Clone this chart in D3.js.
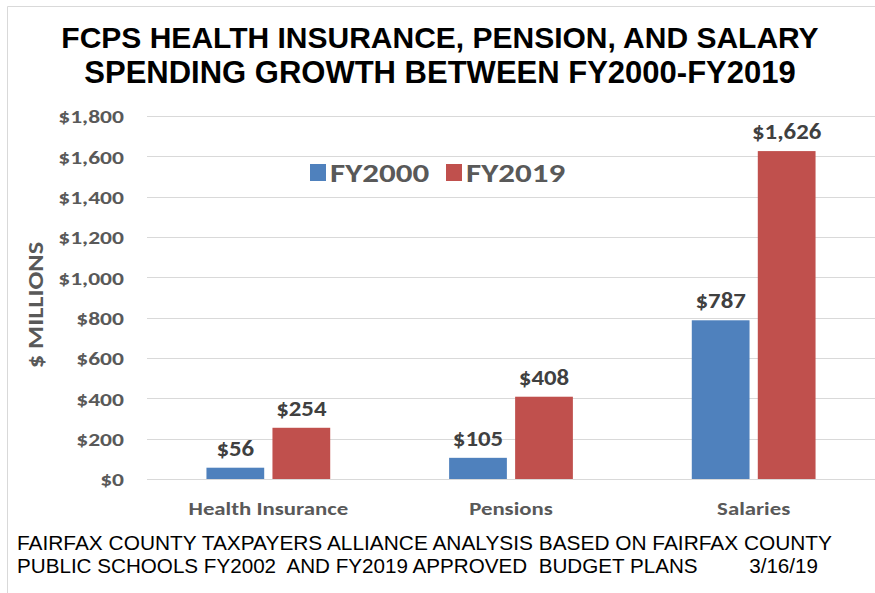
<!DOCTYPE html>
<html><head><meta charset="utf-8">
<script src="https://cdn.jsdelivr.net/npm/d3@7"></script>
<style>body{margin:0;background:#fff;} svg{display:block;}</style>
</head><body>
<svg id="c" width="875" height="593"></svg>
<script>
const categories = ["Health Insurance", "Pensions", "Salaries"];
const seriesNames = ["FY2000", "FY2019"];
const fy2000 = [56, 105, 787];
const fy2019 = [254, 408, 1626];
const yTicks = [0, 200, 400, 600, 800, 1000, 1200, 1400, 1600, 1800];
const colors = ["#4F81BD", "#C0504D"];
const titleLines = ["FCPS HEALTH INSURANCE, PENSION, AND SALARY", "SPENDING GROWTH BETWEEN FY2000-FY2019"];
const footerLines = ["FAIRFAX COUNTY TAXPAYERS ALLIANCE ANALYSIS BASED ON FAIRFAX COUNTY", "PUBLIC SCHOOLS FY2002  AND FY2019 APPROVED  BUDGET PLANS         3/16/19"];

const svg = d3.select("#c");
const labelFont = "Carlito, Calibri, Lato, 'Open Sans', sans-serif";
const narrowFont = "'Liberation Sans Narrow', 'Arial Narrow', 'Liberation Sans', Arial, sans-serif";

// frame
svg.append("line").attr("x1",7.5).attr("x2",875).attr("y1",6.5).attr("y2",6.5).attr("stroke","#d9d9d9");
svg.append("line").attr("x1",7.5).attr("x2",7.5).attr("y1",6.5).attr("y2",593).attr("stroke","#d9d9d9");

const x0 = d3.scaleBand().domain(categories).range([147, 875]).paddingInner(0.49).paddingOuter(0.245);
const x1 = d3.scaleBand().domain(seriesNames).range([0, x0.bandwidth()]).paddingInner(0.125);
const y = d3.scaleLinear().domain([0, 1800]).range([479, 116]);

// gridlines
svg.append("g").selectAll("line").data(yTicks).join("line")
  .attr("x1",147).attr("x2",875)
  .attr("y1",d=>Math.round(y(d))+0.5).attr("y2",d=>Math.round(y(d))+0.5)
  .attr("stroke","#d9d9d9").attr("stroke-width",1.2);

// y axis labels
const yAxis = d3.axisLeft(y).tickValues(yTicks).tickSize(0).tickPadding(0)
  .tickFormat(d => "$" + d3.format(",")(d));
const ga = svg.append("g").attr("transform","translate(124,0)").call(yAxis);
ga.select(".domain").remove();
ga.selectAll("text").attr("font-family",labelFont).attr("font-weight","bold")
  .attr("font-size",19).attr("fill","#595959").attr("dy","0.36em")
  .attr("x",0).attr("transform","scale(1.24,1)");

// y title
svg.append("text").attr("transform","translate(43,305) rotate(-90) scale(1.2,1)")
  .attr("text-anchor","middle").attr("font-family",labelFont).attr("font-weight","bold")
  .attr("font-size",22).attr("fill","#595959").text("$ MILLIONS");

const data = categories.map((c,i)=>({cat:c, vals:[{s:seriesNames[0],v:fy2000[i]},{s:seriesNames[1],v:fy2019[i]}]}));

const groups = svg.append("g").selectAll("g").data(data).join("g")
  .attr("transform", d=>`translate(${x0(d.cat)},0)`);
groups.selectAll("rect").data(d=>d.vals).join("rect")
  .attr("x", d=>x1(d.s)).attr("width", x1.bandwidth())
  .attr("y", d=>y(d.v)).attr("height", d=>y(0)-y(d.v))
  .attr("fill", (d,i)=>colors[i]);
groups.selectAll("text.val").data(d=>d.vals).join("text").attr("class","val")
  .attr("transform", d=>`translate(${x1(d.s)+x1.bandwidth()/2},${y(d.v)-12}) scale(1.08,1)`)
  .attr("text-anchor","middle").attr("font-family",labelFont).attr("font-weight","bold")
  .attr("font-size",23).attr("fill","#404040")
  .text(d=>"$"+d3.format(",")(d.v));

// category labels
const xAxis = d3.axisBottom(x0).tickSize(0).tickPadding(0);
const gx = svg.append("g").attr("transform","translate(0,515)").call(xAxis);
gx.select(".domain").remove();
gx.selectAll("text").attr("font-family",labelFont).attr("font-weight","bold")
  .attr("font-size",19).attr("fill","#595959").attr("dy","0").attr("y",0)
  .attr("transform","scale(1.2,1)");

// legend
const leg = svg.append("g");
const legX = [310, 446];
seriesNames.forEach((s,i)=>{
  leg.append("rect").attr("x",legX[i]).attr("y",164).attr("width",16).attr("height",17).attr("fill",colors[i]);
  leg.append("text").attr("transform",`translate(${legX[i]+20},182) scale(1.27,1)`).attr("font-family",labelFont)
    .attr("font-weight","bold").attr("font-size",26).attr("fill","#595959").text(s);
});

// title
const titleSize = [30, 31];
svg.append("g").selectAll("text").data(titleLines).join("text")
  .attr("x",440).attr("y",(d,i)=>48+i*35).attr("text-anchor","middle")
  .attr("font-family",narrowFont).attr("font-weight","bold").attr("font-size",(d,i)=>titleSize[i])
  .attr("fill","#000").text(d=>d);

// footer
const footW = [815, 801];
svg.append("g").selectAll("text").data(footerLines).join("text")
  .attr("x",17).attr("y",(d,i)=>550+i*23)
  .attr("textLength",(d,i)=>footW[i]).attr("lengthAdjust","spacingAndGlyphs")
  .attr("font-family",narrowFont).attr("font-size",20).attr("fill","#000")
  .attr("xml:space","preserve").style("white-space","pre").text(d=>d);
</script>
</body></html>
